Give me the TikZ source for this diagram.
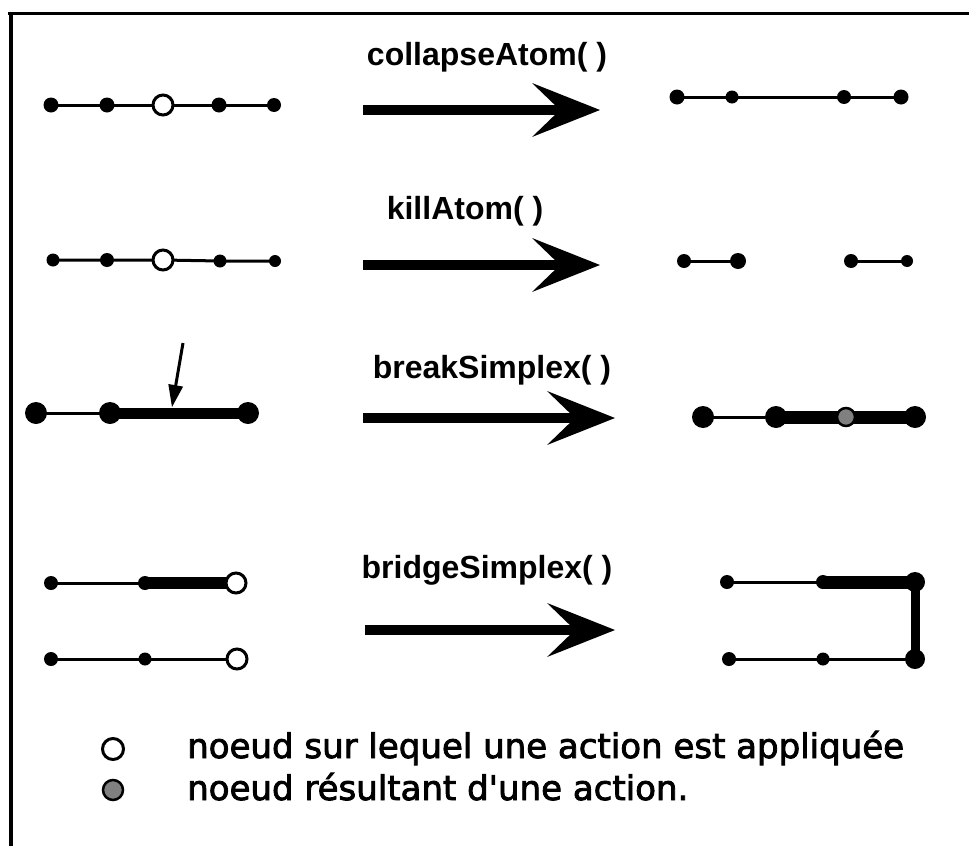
\documentclass[tikz,border=0pt]{standalone}
\usepackage{fontspec}
\setmainfont{Liberation Sans}
\newfontfamily\legendfont[FakeBold=2.5]{DejaVu Sans}
\usetikzlibrary{backgrounds,calc}
\newcommand\fatarrow[2]{%
  \draw[line width=10pt] (#1) -- ($(#2)+(-38,0)$);
  \fill (#2) -- ++(-68,-27) -- ++(28,27) -- ++(-28,27) -- cycle;}
\begin{document}
\begin{tikzpicture}[x=1pt,y=-1pt,
  blob/.style={circle, fill=black, inner sep=0pt, minimum size=#1},
  hollow/.style={circle, draw=black, fill=white, line width=3pt, inner sep=0pt, minimum size=#1},
  result/.style={circle, draw=black, fill=black!50, line width=2.5pt, inner sep=0pt, minimum size=#1},
  thinlink/.style={line width=3pt},
  thicklink/.style={line width=12pt},
  oplabel/.style={font=\bfseries\fontsize{32}{38}\selectfont, anchor=base, inner sep=0pt},
  legtext/.style={font=\legendfont\fontsize{34}{40}\selectfont, anchor=base west, inner sep=0pt}]
\useasboundingbox (0,0) rectangle (969,846);
% frame
\draw[line width=3pt] (8,13.5) -- (969,13.5);
\draw[line width=4pt] (10.5,12) -- (10.5,846);

% ---------- row 1 : collapseAtom
\node[blob=15pt] (a1) at (51,105) {};
\node[blob=15pt] (a2) at (107,105) {};
\node[hollow=20pt] (a3) at (163,105) {};
\node[blob=15pt] (a4) at (219,105) {};
\node[blob=14pt] (a5) at (274,105) {};
\node[blob=15pt] (b1) at (677,97) {};
\node[blob=13pt] (b2) at (732,97) {};
\node[blob=14pt] (b3) at (844,97) {};
\node[blob=15pt] (b4) at (901,97) {};
\node[oplabel] (l1) at (487,65) {collapseAtom( )};
\coordinate (s1) at (363,110);
\coordinate (t1) at (600,110);
\fatarrow{s1}{t1}

% ---------- row 2 : killAtom
\node[blob=13pt] (c1) at (53,260) {};
\node[blob=14pt] (c2) at (107,260) {};
\node[hollow=20pt] (c3) at (163,260) {};
\node[blob=13pt] (c4) at (220,261) {};
\node[blob=12pt] (c5) at (275,261) {};
\node[blob=14pt] (d1) at (684,261) {};
\node[blob=16pt] (d2) at (738,261) {};
\node[blob=14pt] (d3) at (851,261) {};
\node[blob=12pt] (d4) at (907,261) {};
\node[oplabel] (l2) at (465,219) {killAtom( )};
\coordinate (s2) at (363,265);
\coordinate (t2) at (600,265);
\fatarrow{s2}{t2}

% ---------- row 3 : breakSimplex
\node[blob=22pt] (e1) at (36,413) {};
\node[blob=22pt] (e2) at (110,413) {};
\node[blob=22pt] (e3) at (248,413) {};
\coordinate (p1) at (183,343);
\coordinate (p2) at (172,407);
\draw[line width=3pt] (p1) -- ($(p1)!0.72!(p2)$);
\fill (p2) -- ++(11.1,-20.4) -- ++(-14.8,-2.6) -- cycle;
\node[blob=22pt] (f1) at (703,417) {};
\node[blob=22pt] (f2) at (776,417) {};
\node[result=18pt] (f3) at (846,417) {};
\node[blob=22pt] (f4) at (915,417) {};
\node[oplabel] (l3) at (492,378) {breakSimplex( )};
\coordinate (s3) at (363,418);
\coordinate (t3) at (615,418);
\fatarrow{s3}{t3}

% ---------- row 4 : bridgeSimplex
\node[blob=14pt] (g1) at (51,583) {};
\node[blob=14pt] (g2) at (145,583) {};
\node[hollow=20pt] (g3) at (236,583) {};
\node[blob=14pt] (h1) at (51,659) {};
\node[blob=13pt] (h2) at (145,659) {};
\node[hollow=20pt] (h3) at (237,659) {};
\node[blob=14pt] (i1) at (727,582) {};
\node[blob=14pt] (i2) at (823,582) {};
\node[blob=20pt] (i3) at (915,582) {};
\node[blob=14pt] (j1) at (729,659) {};
\node[blob=13pt] (j2) at (823,659) {};
\node[blob=20pt] (j3) at (915,659) {};
\node[oplabel] (l4) at (487,578) {bridgeSimplex( )};
\coordinate (s4) at (365,630);
\coordinate (t4) at (615,630);
\fatarrow{s4}{t4}

% ---------- links (behind the nodes)
\begin{scope}[on background layer]
  \draw[thinlink] (a1.center) -- (a2.center) -- (a3.center) -- (a4.center) -- (a5.center);
  \draw[thinlink] (b1.center) -- (b2.center) -- (b3.center) -- (b4.center);
  \draw[thinlink] (c1.center) -- (c2.center) -- (c3.center) -- (c4.center) -- (c5.center);
  \draw[thinlink] (d1.center) -- (d2.center);
  \draw[thinlink] (d3.center) -- (d4.center);
  \draw[thinlink] (e1.center) -- (e2.center);
  \draw[line width=11pt] (e2.center) -- (e3.center);
  \draw[thinlink] (f1.center) -- (f2.center);
  \draw[line width=13pt] (f2.center) -- (f3.center) -- (f4.center);
  \draw[thinlink] (g1.center) -- (g2.center);
  \draw[thicklink] (g2.center) -- (g3.center);
  \draw[thinlink] (h1.center) -- (h2.center) -- (h3.center);
  \draw[thinlink] (i1.center) -- (i2.center);
  \draw[line width=13pt] (i2.center) -- (i3.center);
  \draw[line width=9pt] (i3.center) -- (j3.center);
  \draw[thinlink] (j1.center) -- (j2.center) -- (j3.center);
\end{scope}

% ---------- legend
\node[hollow=19pt, line width=3pt, minimum height=21pt] (k1) at (113,749) {};
\node[result=20pt] (k2) at (113,790) {};
\node[legtext] (m1) at (187,758) {noeud sur lequel une action est appliquée};
\node[legtext] (m2) at (187,800) {noeud résultant d'une action.};
\end{tikzpicture}
\end{document}
